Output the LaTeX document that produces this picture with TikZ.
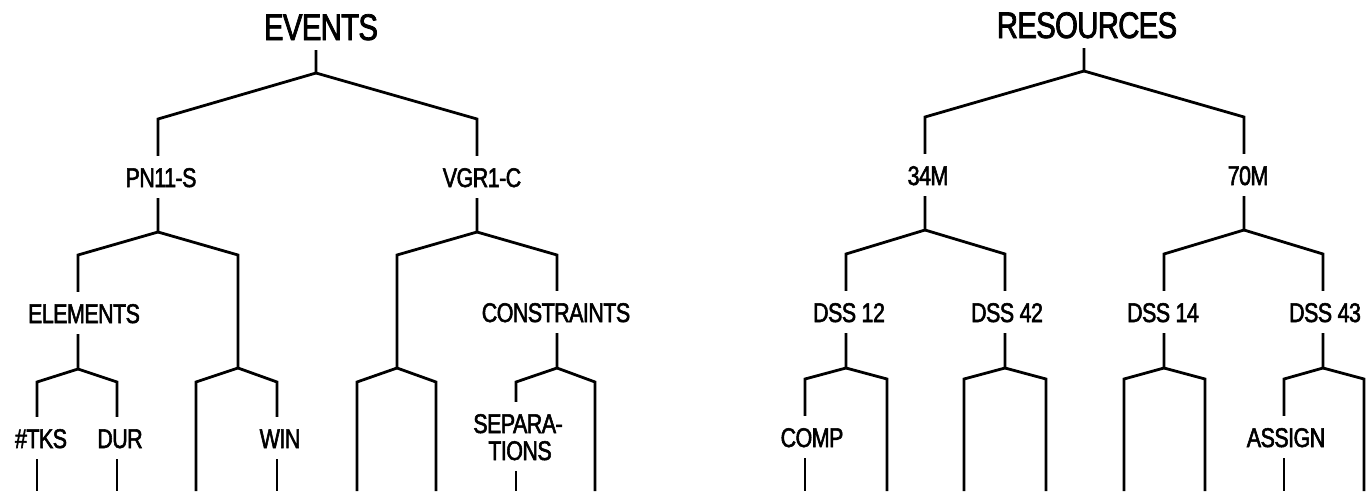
\documentclass[tikz,border=0pt]{standalone}
\usepackage{fontspec}
\newfontfamily\plotfont[FakeStretch=0.795,FakeBold=2,LetterSpace=-2]{Liberation Sans}
\newcommand\rtfont{\plotfont\fontsize{37}{40}\selectfont}
\newcommand\lbfont{\plotfont\fontsize{27}{27}\selectfont}
\tikzset{
  conn/.style={line width=2.8pt, line join=miter},
  root/.style={font=\rtfont, anchor=base, inner xsep=0pt, inner ysep=10pt, text height=27pt, text depth=0pt},
  lbl/.style={font=\lbfont, anchor=base, inner xsep=0pt, inner ysep=11pt, text height=20pt, text depth=0pt},
}
\begin{document}
\begin{tikzpicture}[x=1pt,y=-1pt]
\fill[white] (0,0) rectangle (1368,491);
\useasboundingbox (0,0) rectangle (1368,491);
\coordinate (bot) at (0,491);
% ---------- EVENTS tree ----------
\node[root] (ev) at (321,40) {EVENTS};
\node[lbl] (pn) at (161,187) {PN11-S};
\node[lbl] (vg) at (482,187) {VGR1-C};
\node[lbl] (el) at (84,323) {ELEMENTS};
\node[lbl] (cn) at (556,322) {CONSTRAINTS};
\node[lbl] (tks) at (41,448) {\#TKS};
\node[lbl] (dur) at (120,448) {DUR};
\node[lbl] (win) at (280,448) {WIN};
\node[lbl] (sep1) at (518,433) {SEPARA-};
\node[lbl] (sep2) at (520,460) {TIONS};

\coordinate (evA) at (316,73);  \coordinate (evL) at (158,119); \coordinate (evR) at (477,119);
\coordinate (pnA) at (158,232); \coordinate (pnL) at (78,255);  \coordinate (pnR) at (238,255);
\coordinate (elA) at (78,369);  \coordinate (elL) at (37,382);  \coordinate (elR) at (117,382);
\coordinate (wbA) at (238,368); \coordinate (wbL) at (196,382); \coordinate (wbR) at (277,382);
\coordinate (vgA) at (477,232); \coordinate (vgL) at (397,255); \coordinate (vgR) at (557,255);
\coordinate (vbA) at (397,368); \coordinate (vbL) at (357,382); \coordinate (vbR) at (436,382);
\coordinate (cnA) at (557,368); \coordinate (cnL) at (516,382); \coordinate (cnR) at (595,382);

\draw[conn] (ev.south -| evA) -- (evA) -- (evL) -- (pn.north -| evL);
\draw[conn] (evA) -- (evR) -- (vg.north -| evR);
\draw[conn] (pn.south -| pnA) -- (pnA) -- (pnL) -- (el.north -| pnL);
\draw[conn] (pnA) -- (pnR) -- (wbA);
\draw[conn] (el.south -| elA) -- (elA) -- (elL) -- (tks.north -| elL);
\draw[conn] (elA) -- (elR) -- (dur.north -| elR);
\draw[conn] (tks.south -| elL) -- (elL |- bot);
\draw[conn] (dur.south -| elR) -- (elR |- bot);
\draw[conn] (wbA) -- (wbL) -- (wbL |- bot);
\draw[conn] (wbA) -- (wbR) -- (win.north -| wbR);
\draw[conn] (win.south -| wbR) -- (wbR |- bot);
\draw[conn] (vg.south -| vgA) -- (vgA) -- (vgL) -- (vbA);
\draw[conn] (vgA) -- (vgR) -- (cn.north -| vgR);
\draw[conn] (vbA) -- (vbL) -- (vbL |- bot);
\draw[conn] (vbA) -- (vbR) -- (vbR |- bot);
\draw[conn] (cn.south -| cnA) -- (cnA) -- (cnL) -- (sep1.north -| cnL);
\draw[conn] (cnA) -- (cnR) -- (cnR |- bot);
\draw[conn] (sep2.south -| cnL) -- (cnL |- bot);

% ---------- RESOURCES tree ----------
\node[root] (rs) at (1087,38) {RESOURCES};
\node[lbl] (m34) at (928,185) {34M};
\node[lbl] (m70) at (1248,185) {70M};
\node[lbl] (d12) at (849,322) {DSS 12};
\node[lbl] (d42) at (1007,322) {DSS 42};
\node[lbl] (d14) at (1163,322) {DSS 14};
\node[lbl] (d43) at (1325,322) {DSS 43};
\node[lbl] (comp) at (812,447) {COMP};
\node[lbl] (asg) at (1286,447) {ASSIGN};

\coordinate (rsA) at (1084,71);  \coordinate (rsL) at (925,117);  \coordinate (rsR) at (1244,117);
\coordinate (mA) at (925,230);   \coordinate (mL) at (846,254);   \coordinate (mR) at (1005,254);
\coordinate (nA) at (1244,230);  \coordinate (nL) at (1164,254);  \coordinate (nR) at (1323,254);
\coordinate (aA) at (846,368);   \coordinate (aL) at (805,379);   \coordinate (aR) at (887,379);
\coordinate (bA) at (1005,368);  \coordinate (bL) at (964,379);   \coordinate (bR) at (1046,379);
\coordinate (cA) at (1164,368);  \coordinate (cL) at (1124,379);  \coordinate (cR) at (1205,379);
\coordinate (dA) at (1323,368);  \coordinate (dL) at (1284,379);  \coordinate (dR) at (1364,379);

\draw[conn] (rs.south -| rsA) -- (rsA) -- (rsL) -- (m34.north -| rsL);
\draw[conn] (rsA) -- (rsR) -- (m70.north -| rsR);
\draw[conn] (m34.south -| mA) -- (mA) -- (mL) -- (d12.north -| mL);
\draw[conn] (mA) -- (mR) -- (d42.north -| mR);
\draw[conn] (m70.south -| nA) -- (nA) -- (nL) -- (d14.north -| nL);
\draw[conn] (nA) -- (nR) -- (d43.north -| nR);
\draw[conn] (d12.south -| aA) -- (aA) -- (aL) -- (comp.north -| aL);
\draw[conn] (comp.south -| aL) -- (aL |- bot);
\draw[conn] (aA) -- (aR) -- (aR |- bot);
\draw[conn] (d42.south -| bA) -- (bA) -- (bL) -- (bL |- bot);
\draw[conn] (bA) -- (bR) -- (bR |- bot);
\draw[conn] (d14.south -| cA) -- (cA) -- (cL) -- (cL |- bot);
\draw[conn] (cA) -- (cR) -- (cR |- bot);
\draw[conn] (d43.south -| dA) -- (dA) -- (dL) -- (asg.north -| dL);
\draw[conn] (asg.south -| dL) -- (dL |- bot);
\draw[conn] (dA) -- (dR) -- (dR |- bot);
\end{tikzpicture}
\end{document}
